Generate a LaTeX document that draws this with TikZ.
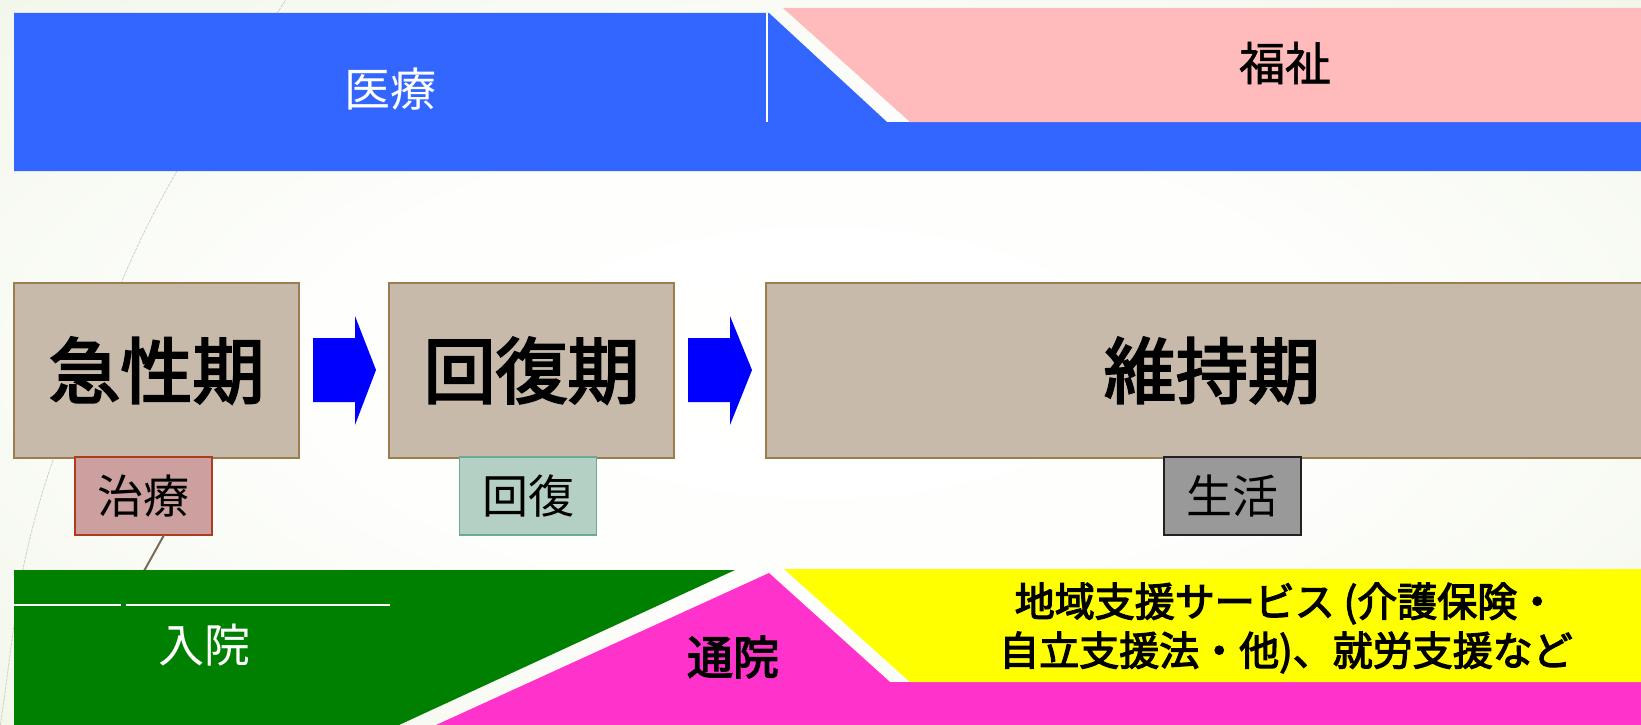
\documentclass[tikz,border=0pt]{standalone}
\usepackage{fontspec}
\newfontfamily\jp{Noto Sans CJK JP}
\newfontfamily\jpm[FakeBold=3]{Noto Sans CJK JP}
\newfontfamily\jps[FakeBold=1.2]{Noto Sans CJK JP}
\definecolor{bandblue}{HTML}{3366FF}
\definecolor{bandpink}{HTML}{FFBBBB}
\definecolor{bandgreen}{HTML}{008000}
\definecolor{bandmagenta}{HTML}{FF33CC}
\definecolor{bandyellow}{HTML}{FFFF00}
\definecolor{boxfill}{HTML}{C8BAAA}
\definecolor{boxline}{HTML}{9B7D4E}
\definecolor{chiryofill}{HTML}{CDA0A0}
\definecolor{chiryoline}{HTML}{B03A20}
\definecolor{kaifukufill}{HTML}{B4D0C4}
\definecolor{kaifukuline}{HTML}{6AAA92}
\definecolor{seikatsufill}{HTML}{999999}
\definecolor{seikatsuline}{HTML}{222222}
\definecolor{arrowblue}{HTML}{0000FF}
\definecolor{linkgray}{HTML}{7A6A58}
\definecolor{curvegray}{HTML}{CDD2BE}
\pgfdeclareradialshading{bgshade}{\pgfpoint{0bp}{0bp}}{rgb(0bp)=(1,1,1); rgb(16bp)=(0.995,0.997,0.99); rgb(58bp)=(0.90,0.93,0.84); rgb(72bp)=(0.88,0.915,0.81)}
\begin{document}
\begin{tikzpicture}[x=1pt,y=-1pt,
  every node/.style={inner sep=0pt, outer sep=0pt},
  phase/.style={draw=boxline, fill=boxfill, line width=1.6pt, minimum height=175, font=\jpm\fontsize{72}{72}\selectfont},
  tagbox/.style={line width=1.6pt, minimum width=137, minimum height=78, font=\jp\fontsize{46}{46}\selectfont},
  bandlabel/.style={font=\jp\fontsize{46}{46}\selectfont},
  blockarrow/.style={fill=arrowblue},
  linkline/.style={draw=linkgray, line width=2pt},
  bgcurve/.style={draw=curvegray, line width=0.8pt, dash pattern=on 3pt off 1pt}]
\useasboundingbox (0,0) rectangle (1641,725);
\begin{scope}
\clip (0,0) rectangle (1641,725);
% background
\shade[shading=bgshade] (0,0) rectangle (1641,725);
\draw[bgcurve] plot[smooth] coordinates {(287,-2) (177,171) (122,281) (53,460) (23,569) (4,700) (0,727)};
% top bands
\fill[bandblue] (14,13) -- (769,13) -- (887,122) -- (1641,122) -- (1641,171) -- (14,171) -- cycle;
\draw[white, line width=1.2pt] (767,13) -- (767,122);
\fill[bandpink] (783,8) -- (1641,8) -- (1641,122) -- (910,122) -- cycle;
\node[bandlabel, text=white] (iryo) at (390,89) {医療};
\node[font=\jps\fontsize{46}{46}\selectfont] (fukushi) at (1285,63) {福祉};
% phases
\node[phase, minimum width=285] (acute) at (156.5,370.5) {急性期};
\node[phase, minimum width=285] (recovery) at (531.5,370.5) {回復期};
\node[phase, minimum width=892] (maintenance) at (1212,370.5) {維持期};
% block arrows
\fill[blockarrow] (313,338) -- (355,338) -- (355,316) -- (376,370) -- (355,425) -- (355,402) -- (313,402) -- cycle;
\fill[blockarrow] (688,338) -- (730,338) -- (730,316) -- (752,370) -- (730,425) -- (730,402) -- (688,402) -- cycle;
% tags
\node[tagbox, draw=chiryoline, fill=chiryofill] (chiryo) at (143.5,496) {治療};
\node[tagbox, draw=kaifukuline, fill=kaifukufill] (kaifuku) at (528,496) {回復};
\node[tagbox, draw=seikatsuline, fill=seikatsufill] (seikatsu) at (1232.5,496) {生活};
% bottom bands
\coordinate (nyuintop) at (144,571);
\draw[linkline] ([xshift=20.5pt]chiryo.south) -- (nyuintop);
\fill[bandgreen] (14,570) -- (735,570) -- (399,725) -- (14,725) -- cycle;
\draw[white, line width=1.2pt] (14,605) -- (121,605);
\draw[white, line width=1.2pt] (126,605) -- (390,605);
\fill[bandmagenta] (769,573) -- (890,682) -- (1641,682) -- (1641,725) -- (436,725) -- cycle;
\fill[bandyellow] (784,569) -- (1641,569) -- (1641,682) -- (910,682) -- cycle;
\node[bandlabel, text=white] (nyuin) at (204,645) {入院};
\node[font=\jpm\fontsize{46}{46}\selectfont] (tsuin) at (733,657) {通院};
\node[align=center, font=\jpm\fontsize{40}{49}\selectfont] (chiiki) at (1286,628) {地域支援サービス (介護保険・\\自立支援法・他)、就労支援など};
\end{scope}
\end{tikzpicture}
\end{document}
